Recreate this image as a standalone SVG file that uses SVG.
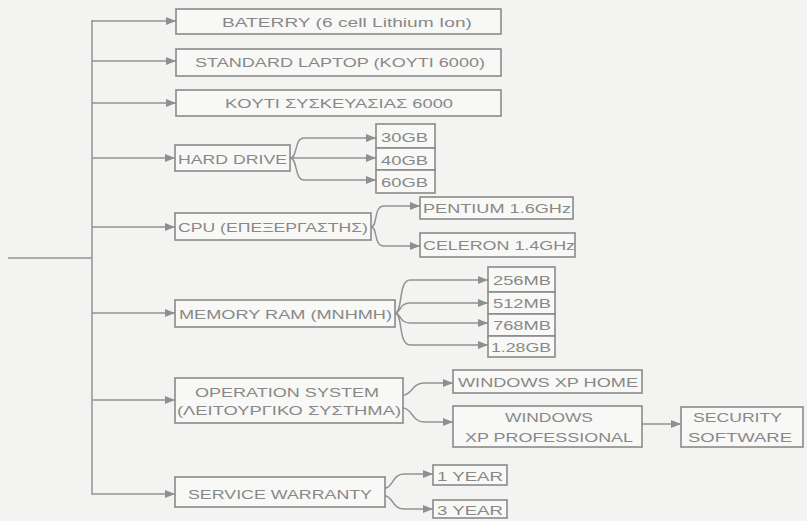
<svg xmlns="http://www.w3.org/2000/svg" width="807" height="521" viewBox="0 0 807 521">
<defs>
<marker id="ah" markerUnits="userSpaceOnUse" markerWidth="11" markerHeight="9" refX="10" refY="4.5" orient="auto">
<path d="M0,0.5 L10,4.5 L0,8.5 z" fill="#8f8f8f"/>
</marker>
<style>
.b{fill:#f8f8f7;stroke:#8a8a8a;stroke-width:1.6}
.t{font-family:"Liberation Sans",Arial,sans-serif;font-size:13.5px;fill:#888888}
.c{fill:none;stroke:#939393;stroke-width:1.5}
.a{fill:none;stroke:#939393;stroke-width:1.5;marker-end:url(#ah)}
</style>
</defs>
<rect width="807" height="521" fill="#f3f3f1"/>

<g id="connectors">
<path class="c" d="M8 258 H92"/>
<path class="c" d="M92 20 V495"/>
<path class="a" d="M92 21 H176"/>
<path class="a" d="M92 61 H176"/>
<path class="a" d="M92 103 H176"/>
<path class="a" d="M92 158 H175"/>
<path class="a" d="M92 227 H175"/>
<path class="a" d="M92 313 H175"/>
<path class="a" d="M92 400 H175"/>
<path class="a" d="M92 494 H175"/>
<path class="a" d="M290 158 C298 158 294 138 304 138 H376"/>
<path class="a" d="M290 158 H376"/>
<path class="a" d="M290 158 C298 158 294 180 304 180 H376"/>
<path class="a" d="M371 227 C378 227 373 206 384 206 H420"/>
<path class="a" d="M371 227 C378 227 373 246 384 246 H420"/>
<path class="a" d="M395 313 C403 313 398 280 410 280 H488"/>
<path class="a" d="M395 313 C401 313 399 303 410 303 H488"/>
<path class="a" d="M395 313 C401 313 399 323 410 323 H488"/>
<path class="a" d="M395 313 C403 313 398 345 410 345 H488"/>
<path class="a" d="M403 395 C412 395 412 383 424 383 H453"/>
<path class="a" d="M403 408 C412 408 412 422 424 422 H453"/>
<path class="a" d="M642 424 H681"/>
<path class="a" d="M385 488 C393 488 392 474 404 474 H433"/>
<path class="a" d="M385 496 C393 496 392 509 404 509 H433"/>
</g>

<g id="battery"><rect class="b" x="176" y="9" width="325" height="25"/><text class="t" x="222" y="27" textLength="250" lengthAdjust="spacingAndGlyphs">BATERRY (6 cell Lithium Ion)</text></g>
<g id="standard"><rect class="b" x="176" y="49" width="325" height="27"/><text class="t" x="195" y="67" textLength="290" lengthAdjust="spacingAndGlyphs">STANDARD LAPTOP (KOYTI 6000)</text></g>
<g id="koyti"><rect class="b" x="176" y="90" width="325" height="26"/><text class="t" x="225" y="108" textLength="228" lengthAdjust="spacingAndGlyphs">KOYTI ΣΥΣΚΕΥΑΣΙΑΣ 6000</text></g>

<g id="harddrive"><rect class="b" x="175" y="145" width="115" height="26"/><text class="t" x="178" y="164" textLength="109" lengthAdjust="spacingAndGlyphs">HARD DRIVE</text></g>
<g id="gb30"><rect class="b" x="376" y="124" width="59" height="24"/><text class="t" x="381" y="142" textLength="47" lengthAdjust="spacingAndGlyphs">30GB</text></g>
<g id="gb40"><rect class="b" x="376" y="148" width="59" height="22"/><text class="t" x="381" y="165" textLength="47" lengthAdjust="spacingAndGlyphs">40GB</text></g>
<g id="gb60"><rect class="b" x="376" y="170" width="59" height="23"/><text class="t" x="381" y="187" textLength="47" lengthAdjust="spacingAndGlyphs">60GB</text></g>

<g id="cpu"><rect class="b" x="175" y="213" width="196" height="27"/><text class="t" x="178" y="232" textLength="190" lengthAdjust="spacingAndGlyphs">CPU (ΕΠΕΞΕΡΓΑΣΤΗΣ)</text></g>
<g id="pentium"><rect class="b" x="420" y="197" width="153" height="22"/><text class="t" x="423" y="213" textLength="148" lengthAdjust="spacingAndGlyphs">PENTIUM 1.6GHz</text></g>
<g id="celeron"><rect class="b" x="420" y="233" width="155" height="24"/><text class="t" x="423" y="250" textLength="152" lengthAdjust="spacingAndGlyphs">CELERON 1.4GHz</text></g>

<g id="memory"><rect class="b" x="175" y="300" width="220" height="27"/><text class="t" x="179" y="319" textLength="213" lengthAdjust="spacingAndGlyphs">MEMORY RAM (MNHMH)</text></g>
<g id="mb256"><rect class="b" x="488" y="267" width="67" height="25"/><text class="t" x="493" y="285" textLength="58" lengthAdjust="spacingAndGlyphs">256MB</text></g>
<g id="mb512"><rect class="b" x="488" y="292" width="67" height="22"/><text class="t" x="493" y="308" textLength="58" lengthAdjust="spacingAndGlyphs">512MB</text></g>
<g id="mb768"><rect class="b" x="488" y="314" width="67" height="22"/><text class="t" x="493" y="330" textLength="58" lengthAdjust="spacingAndGlyphs">768MB</text></g>
<g id="gb128"><rect class="b" x="488" y="336" width="67" height="21"/><text class="t" x="491" y="352" textLength="60" lengthAdjust="spacingAndGlyphs">1.28GB</text></g>

<g id="os"><rect class="b" x="175" y="378" width="228" height="45"/><text class="t" x="195" y="397" textLength="184" lengthAdjust="spacingAndGlyphs">OPERATION SYSTEM</text><text class="t" x="177" y="415" textLength="224" lengthAdjust="spacingAndGlyphs">(ΛΕΙΤΟΥΡΓΙΚΟ ΣΥΣΤΗΜΑ)</text></g>
<g id="xphome"><rect class="b" x="453" y="370" width="189" height="23"/><text class="t" x="458" y="387" textLength="180" lengthAdjust="spacingAndGlyphs">WINDOWS XP HOME</text></g>
<g id="xppro"><rect class="b" x="453" y="406" width="189" height="41"/><text class="t" x="505" y="422" textLength="88" lengthAdjust="spacingAndGlyphs">WINDOWS</text><text class="t" x="465" y="442" textLength="168" lengthAdjust="spacingAndGlyphs">XP PROFESSIONAL</text></g>
<g id="security"><rect class="b" x="681" y="407" width="122" height="40"/><text class="t" x="693" y="422" textLength="89" lengthAdjust="spacingAndGlyphs">SECURITY</text><text class="t" x="688" y="442" textLength="104" lengthAdjust="spacingAndGlyphs">SOFTWARE</text></g>

<g id="warranty"><rect class="b" x="175" y="477" width="210" height="30"/><text class="t" x="188" y="499" textLength="184" lengthAdjust="spacingAndGlyphs">SERVICE WARRANTY</text></g>
<g id="year1"><rect class="b" x="433" y="465" width="74" height="20"/><text class="t" x="437" y="481" textLength="66" lengthAdjust="spacingAndGlyphs">1 YEAR</text></g>
<g id="year3"><rect class="b" x="433" y="500" width="74" height="18"/><text class="t" x="437" y="515" textLength="66" lengthAdjust="spacingAndGlyphs">3 YEAR</text></g>
</svg>
